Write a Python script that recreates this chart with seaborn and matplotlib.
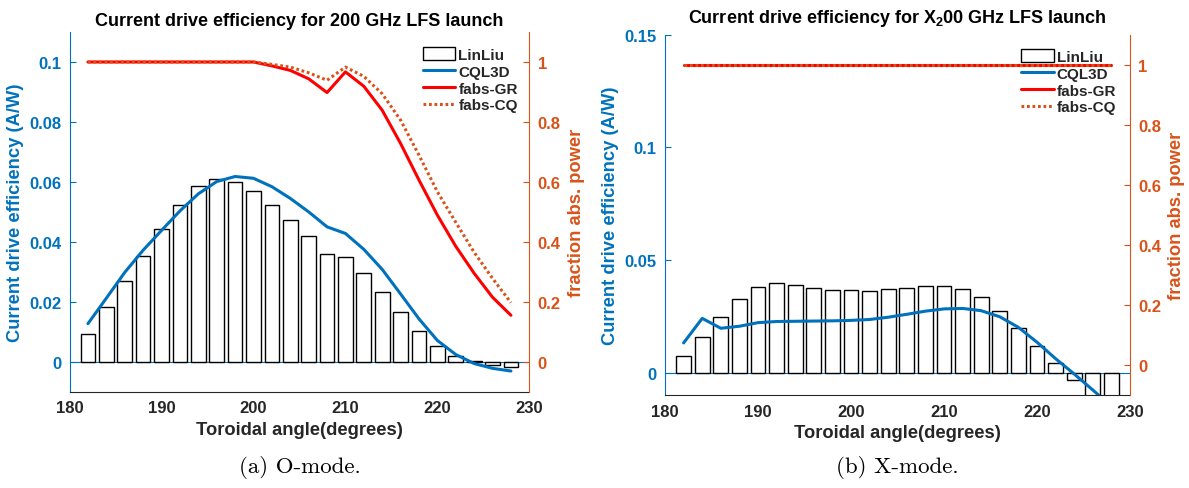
import matplotlib
matplotlib.use("Agg")
import matplotlib.pyplot as plt
import pandas as pd
import seaborn as sns
from matplotlib.patches import Patch
from matplotlib.lines import Line2D

# Toroidal launch angles (degrees)
angles = [182, 184, 186, 188, 190, 192, 194, 196, 198, 200, 202, 204,
          206, 208, 210, 212, 214, 216, 218, 220, 222, 224, 226, 228]

# O-mode: current drive efficiency (A/W) and absorbed power fraction
o_linliu = [0.0092, 0.0183, 0.0268, 0.0352, 0.0442, 0.0524, 0.0585, 0.0611,
            0.0601, 0.0570, 0.0522, 0.0473, 0.0418, 0.0358, 0.0351, 0.0297,
            0.0234, 0.0167, 0.0102, 0.0052, 0.0019, 0.0002, -0.0011, -0.0017]
o_cql3d = [0.0127, 0.0212, 0.0298, 0.0372, 0.0438, 0.0503, 0.0560, 0.0601,
           0.0618, 0.0612, 0.0584, 0.0545, 0.0500, 0.0450, 0.0428, 0.0375,
           0.0308, 0.0226, 0.0143, 0.0071, 0.0024, -0.0006, -0.0022, -0.0031]
o_fabs_gr = [1.0, 1.0, 1.0, 1.0, 1.0, 1.0, 1.0, 1.0, 1.0, 1.0, 0.987, 0.972,
             0.944, 0.898, 0.967, 0.919, 0.839, 0.728, 0.606, 0.489, 0.385,
             0.295, 0.215, 0.155]
o_fabs_cq = [1.0, 1.0, 1.0, 1.0, 1.0, 1.0, 1.0, 1.0, 1.0, 1.0, 0.992, 0.983,
             0.964, 0.939, 0.983, 0.952, 0.894, 0.806, 0.689, 0.567, 0.465,
             0.365, 0.278, 0.197]

# X-mode: current drive efficiency (A/W) and absorbed power fraction
x_linliu = [0.0072, 0.0157, 0.0245, 0.0328, 0.0379, 0.0396, 0.0391, 0.0376,
            0.0368, 0.0365, 0.0364, 0.0370, 0.0377, 0.0383, 0.0383, 0.0370,
            0.0334, 0.0275, 0.0198, 0.0120, 0.0041, -0.0033, -0.0120, -0.0140]
x_cql3d = [0.0132, 0.0241, 0.0197, 0.0206, 0.0222, 0.0227, 0.0228, 0.0229,
           0.0230, 0.0232, 0.0236, 0.0246, 0.0259, 0.0273, 0.0283, 0.0285,
           0.0275, 0.0248, 0.0201, 0.0135, 0.0062, -0.0006, -0.0077, -0.0150]
x_fabs_gr = [1.0, 1.0, 1.0, 1.0, 1.0, 1.0, 1.0, 1.0, 1.0, 1.0, 1.0, 1.0,
             1.0, 1.0, 1.0, 1.0, 1.0, 1.0, 1.0, 1.0, 1.0, 1.0, 1.0, 1.0]
x_fabs_cq = [1.0, 1.0, 1.0, 1.0, 1.0, 1.0, 1.0, 1.0, 1.0, 1.0, 1.0, 1.0,
             1.0, 1.0, 1.0, 1.0, 1.0, 1.0, 1.0, 1.0, 1.0, 1.0, 1.0, 1.0]

# Axis ticks and labels
x_ticks = [180, 190, 200, 210, 220, 230]
o_eff_ticks = [0, 0.02, 0.04, 0.06, 0.08, 0.1]
o_eff_labels = ["0", "0.02", "0.04", "0.06", "0.08", "0.1"]
x_eff_ticks = [0, 0.05, 0.1, 0.15]
x_eff_labels = ["0", "0.05", "0.1", "0.15"]
frac_ticks = [0, 0.2, 0.4, 0.6, 0.8, 1]
frac_labels = ["0", "0.2", "0.4", "0.6", "0.8", "1"]
legend_labels = ["LinLiu", "CQL3D", "fabs-GR", "fabs-CQ"]
titles = ["Current drive efficiency for 200 GHz LFS launch",
          r"Current drive efficiency for X$_\mathbf{2}$00 GHz LFS launch"]
captions = ["(a) O-mode.", "(b) X-mode."]

BLUE = "#0072BD"
ORANGE = "#D95319"
RED = "#FF0000"
DARK = "#262626"

TICK_FS = 12
LABEL_FS = 13.2
TITLE_FS = 13
LEGEND_FS = 11

sns.set_theme(style="white")
plt.rcParams["font.family"] = ["Liberation Sans", "DejaVu Sans"]
plt.rcParams["font.weight"] = "bold"
plt.rcParams["mathtext.fontset"] = "custom"
plt.rcParams["mathtext.rm"] = "Liberation Sans:bold"
plt.rcParams["mathtext.bf"] = "Liberation Sans:bold"

fig = plt.figure(figsize=(11.89, 4.89), dpi=100)


def panel(rect, linliu, cql, gr, cq, ylim, yticks, ylabels, title, title_pad,
          caption, caption_x, leg_anchor):
    ax = fig.add_axes(rect)
    ax.axhline(0, color=BLUE, lw=0.8, zorder=0.5)
    bars = pd.DataFrame({"angle": angles, "eff": linliu})
    sns.barplot(data=bars, x="angle", y="eff", native_scale=True, width=0.8,
                color="white", edgecolor="black", linewidth=1.0, saturation=1,
                errorbar=None, ax=ax)
    sns.lineplot(x=angles, y=cql, ax=ax, color=BLUE, lw=2.2)

    ax.set_xlim(180, 230)
    ax.set_ylim(*ylim)
    ax.set_xticks(x_ticks)
    ax.set_xticklabels([str(t) for t in x_ticks])
    ax.set_yticks(yticks)
    ax.set_yticklabels(ylabels)
    ax.tick_params(axis="x", direction="in", length=4, width=0.8,
                   colors=DARK, labelsize=TICK_FS, pad=6)
    ax.tick_params(axis="y", direction="in", length=4, width=0.8,
                   colors=BLUE, labelsize=TICK_FS, pad=6)
    ax.set_xlabel("Toroidal angle(degrees)", fontsize=LABEL_FS, color=DARK,
                  weight="bold", labelpad=4)
    ax.set_ylabel("Current drive efficiency (A/W)", fontsize=LABEL_FS,
                  color=BLUE, weight="bold", labelpad=4)
    for side in ("top", "right"):
        ax.spines[side].set_visible(False)
    ax.spines["left"].set_color(BLUE)
    ax.spines["bottom"].set_color(DARK)
    for side in ("left", "bottom"):
        ax.spines[side].set_linewidth(0.8)
    ax.set_title(title, fontsize=TITLE_FS, weight="bold", color="black",
                 pad=title_pad)

    ax2 = ax.twinx()
    sns.lineplot(x=angles, y=gr, ax=ax2, color=RED, lw=2.2)
    sns.lineplot(x=angles, y=cq, ax=ax2, color=ORANGE, lw=2.2,
                 linestyle=(0, (0.9, 0.9)))
    ax2.set_ylim(-0.1, 1.1)
    ax2.set_yticks(frac_ticks)
    ax2.set_yticklabels(frac_labels)
    ax2.tick_params(axis="y", direction="in", length=4, width=0.8,
                    colors=ORANGE, labelsize=TICK_FS, pad=6)
    ax2.set_ylabel("fraction abs. power", fontsize=LABEL_FS, color=ORANGE,
                   weight="bold", labelpad=5)
    for side in ("top", "left", "bottom"):
        ax2.spines[side].set_visible(False)
    ax2.spines["right"].set_color(ORANGE)
    ax2.spines["right"].set_linewidth(0.8)

    handles = [Patch(facecolor="white", edgecolor="black", lw=1.0),
               Line2D([], [], color=BLUE, lw=2.2),
               Line2D([], [], color=RED, lw=2.2),
               Line2D([], [], color=ORANGE, lw=2.2, ls=(0, (0.9, 0.9)))]
    ax2.legend(handles, legend_labels, loc="upper right",
               bbox_to_anchor=leg_anchor, frameon=False,
               prop={"weight": "bold", "size": LEGEND_FS}, handlelength=2.1,
               handleheight=0.9, handletextpad=0.2, labelspacing=0.15,
               borderaxespad=0, borderpad=0)

    fig.text(caption_x, 1 - 468 / 489, caption, family="cmr10",
             weight="normal", fontsize=16.5, ha="center", va="center",
             color="black")


panel([0.0585, 0.1969, 0.3867, 0.7356], o_linliu, o_cql3d, o_fabs_gr,
      o_fabs_cq, (-0.01, 0.11), o_eff_ticks, o_eff_labels, titles[0], 5,
      captions[0], 299.4 / 1189, (0.975, 0.958))
panel([0.5593, 0.1898, 0.3911, 0.7372], x_linliu, x_cql3d, x_fabs_gr,
      x_fabs_cq, (-0.01, 0.15), x_eff_ticks, x_eff_labels, titles[1], 9.5,
      captions[1], 897.5 / 1189, (0.97, 0.96))

fig.savefig("out.png", dpi=100)
